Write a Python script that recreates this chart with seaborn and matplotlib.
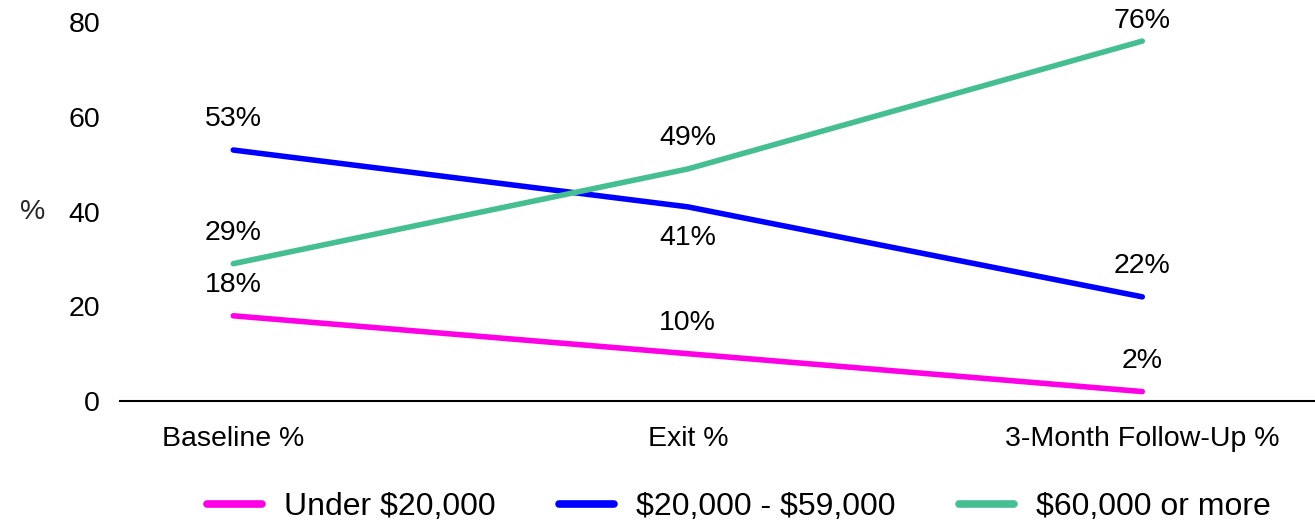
import matplotlib
matplotlib.use("Agg")
import matplotlib.pyplot as plt
import seaborn as sns
import pandas as pd

# %% data
stages = ["Baseline %", "Exit %", "3-Month Follow-Up %"]
groups = ["Under $20,000", "$20,000 - $59,000", "$60,000 or more"]
under_20k = [18, 10, 2]
mid_20k_59k = [53, 41, 22]
over_60k = [29, 49, 76]
colors = ["#ff00e6", "#0000ff", "#45bf92"]

df = pd.DataFrame({
    "stage": stages * 3,
    "group": [g for g in groups for _ in stages],
    "value": under_20k + mid_20k_59k + over_60k,
})

# %% plot
sns.set_theme(style="white")
plt.rcParams["font.family"] = ["Liberation Sans", "DejaVu Sans"]
plt.rcParams["text.color"] = "black"

fig, ax = plt.subplots(figsize=(13.15, 5.27), dpi=100)
fig.subplots_adjust(left=0.091, right=1.0, bottom=0.239, top=0.958)

sns.lineplot(data=df, x="stage", y="value", hue="group", hue_order=groups,
             palette=colors, linewidth=4, sort=False, ax=ax, legend=True)
for line in ax.lines:
    line.set_solid_capstyle("round")

# value labels: default above the point, a couple of special cases
special = {(groups[1], "Exit %"): -13, (groups[2], "3-Month Follow-Up %"): 5}
idx = {s: i for i, s in enumerate(stages)}
for _, r in df.iterrows():
    dy = special.get((r["group"], r["stage"]), 13)
    ax.annotate(f"{r['value']}%", (idx[r['stage']], r["value"]),
                xytext=(0, dy), textcoords="offset points", annotation_clip=False,
                ha="center", va="top" if dy < 0 else "bottom", fontsize=20.5, color="black")

ax.set_xlim(-0.25, 2.38)
ax.set_ylim(0, 80)
ax.set_yticks([0, 20, 40, 60, 80])
ax.tick_params(axis="both", length=0, labelsize=20.5, colors="black")
ax.tick_params(axis="y", pad=14)
ax.tick_params(axis="x", pad=18)
ax.set_xlabel("")
ax.set_ylabel("%", rotation=0, fontsize=20.5, va="center")
ax.yaxis.set_label_coords(-0.073, 0.5)

for s in ["top", "right", "left"]:
    ax.spines[s].set_visible(False)
ax.spines["bottom"].set_color("black")
ax.spines["bottom"].set_linewidth(1.5)

handles, labels = ax.get_legend_handles_labels()
ax.get_legend().remove()
for h in handles:
    h.set_linewidth(5.5)
labels = [l.replace("$", r"\$") for l in labels]
fig.legend(handles, labels, loc="lower center", bbox_to_anchor=(0.562, -0.045), ncol=3,
           frameon=False, fontsize=23, handlelength=1.7, handletextpad=0.7,
           columnspacing=2.0, labelcolor="black")

fig.savefig("out.png", dpi=100)
